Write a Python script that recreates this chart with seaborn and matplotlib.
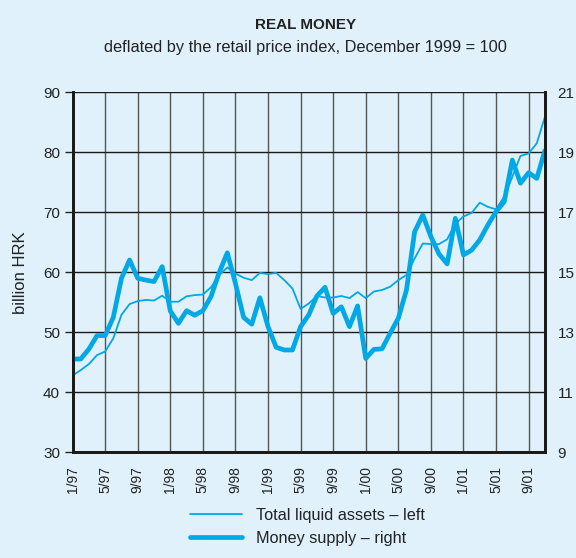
import numpy as np
import pandas as pd
import matplotlib
matplotlib.use('Agg')
import matplotlib.pyplot as plt
import seaborn as sns

# monthly data, 1/97 .. 11/01
months = pd.date_range('1997-01-01', periods=59, freq='MS')
total_liquid = [42.8, 43.7, 44.7, 46.2, 46.8, 49.0, 52.9, 54.7, 55.2, 55.4,
                55.3, 56.1, 55.1, 55.1, 56.0, 56.2, 56.3, 57.5, 59.55, 60.8,
                59.8, 59.1, 58.7, 59.9, 59.7, 59.9, 58.7, 57.3, 53.9, 54.8,
                56.05, 55.8, 55.8, 56.05, 55.7, 56.7, 55.7, 56.8, 57.05, 57.6,
                58.7, 59.55, 62.3, 64.8, 64.7, 64.7, 65.5, 68.1, 69.3, 69.9,
                71.6, 70.9, 70.5, 72.6, 75.9, 79.4, 79.8, 81.5, 85.9]
money_supply = [12.11, 12.11, 12.44, 12.89, 12.89, 13.5, 14.8, 15.41, 14.8, 14.74,
                14.69, 15.19, 13.71, 13.3, 13.72, 13.57, 13.72, 14.19, 14.99, 15.65,
                14.63, 13.5, 13.27, 14.15, 13.19, 12.5, 12.41, 12.41, 13.19, 13.58,
                14.21, 14.5, 13.63, 13.85, 13.19, 13.88, 12.13, 12.43, 12.45, 12.97,
                13.47, 14.41, 16.35, 16.91, 16.19, 15.61, 15.28, 16.8, 15.58, 15.74,
                16.08, 16.58, 17.02, 17.35, 18.74, 17.97, 18.32, 18.13, 19.06]
tick_labels = ['1/97', '5/97', '9/97', '1/98', '5/98', '9/98', '1/99', '5/99',
               '9/99', '1/00', '5/00', '9/00', '1/01', '5/01', '9/01']

df = pd.DataFrame({'month': np.arange(len(months)),
                   'total': total_liquid,
                   'money': money_supply})

bg = '#e0f1fb'
blue = '#00a9e6'
ink = '#222222'

sns.set_style('white')
plt.rcParams['font.family'] = ['Liberation Sans', 'DejaVu Sans']

fig = plt.figure(figsize=(5.76, 5.58), dpi=100, facecolor=bg)
ax = fig.add_axes([0.126, 0.1894, 0.82, 0.6452], facecolor=bg)
ax2 = ax.twinx()

sns.lineplot(data=df, x='month', y='total', ax=ax, color=blue, lw=1.3,
             label='Total liquid assets \u2013 left')
sns.lineplot(data=df, x='month', y='money', ax=ax2, color=blue, lw=3.4,
             label='Money supply \u2013 right')

ax.set_xlim(0, len(months) - 1)
ax.set_ylim(30, 90)
ax2.set_ylim(9, 21)
ax.set_yticks(range(30, 91, 10))
ax2.set_yticks(range(9, 22, 2))
ax.set_xticks(np.arange(0, len(months), 4))
ax.set_xticklabels(tick_labels, rotation=90, fontsize=10, color=ink)

ax.grid(axis='y', color='#1a1a1a', lw=1)
ax.grid(axis='x', color='#555555', lw=1)
ax.set_axisbelow(True)

ax.set_xlabel('')
ax.set_ylabel('billion HRK', fontsize=12, color=ink, labelpad=11)
ax2.set_ylabel('')

ax.tick_params(axis='y', length=6, width=1, color=ink, labelsize=11,
               labelcolor=ink, pad=3, direction='out')
ax.tick_params(axis='x', length=6, width=1, color=ink, pad=4, direction='out')
ax2.tick_params(axis='y', length=0, labelsize=11, labelcolor=ink, pad=9)

for a in (ax, ax2):
    for side in ['left', 'right', 'bottom']:
        a.spines[side].set_color('#1a1a1a')
        a.spines[side].set_linewidth(2)
    a.spines['top'].set_visible(False)

h1, l1 = ax.get_legend_handles_labels()
h2, l2 = ax2.get_legend_handles_labels()
ax.get_legend().remove()
ax2.get_legend().remove()
fig.legend(h1 + h2, l1 + l2, loc='upper left', bbox_to_anchor=(0.318, 0.101),
           borderaxespad=0, frameon=False, fontsize=11.7, handlelength=3.2,
           handletextpad=0.9, labelspacing=0.48, labelcolor=ink)

fig.text(0.53, 0.955, 'REAL MONEY', ha='center', va='center', fontsize=11,
         fontweight='bold', color=ink)
fig.text(0.53, 0.915, 'deflated by the retail price index, December 1999 = 100',
         ha='center', va='center', fontsize=11.8, color=ink)

fig.savefig('out.png', dpi=100, facecolor=bg)
